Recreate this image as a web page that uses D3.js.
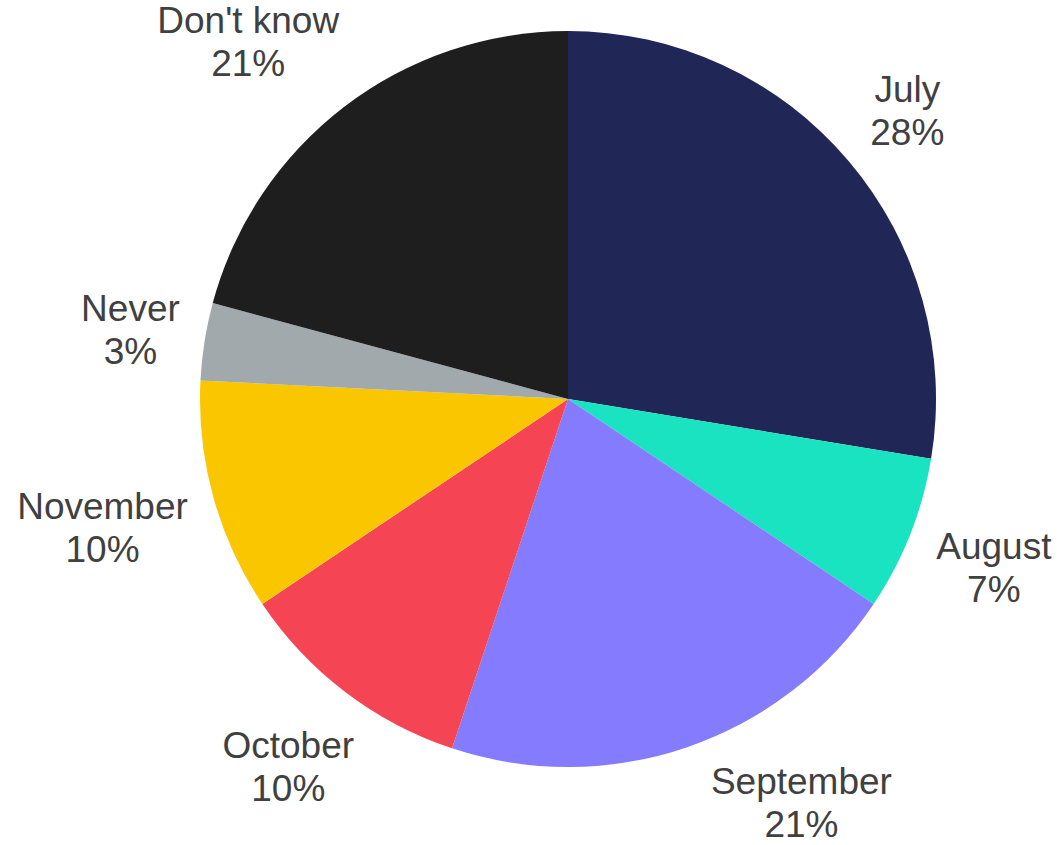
<!DOCTYPE html>
<html>
<head>
<meta charset="utf-8">
<script src="https://cdn.jsdelivr.net/npm/d3@7"></script>
<style>
  body { margin: 0; background: #fff; }
  svg text { font-family: "Liberation Sans", Arial, sans-serif; fill: #404040; }
</style>
</head>
<body>
<svg id="chart" width="1061" height="845"></svg>
<script>
// data (slice shares, percent labels as printed)
const categories = ["July", "August", "September", "October", "November", "Never", "Don't know"];
const values = [27.6, 6.8, 20.7, 10.5, 10.2, 3.4, 20.8];
const pctLabels = ["28%", "7%", "21%", "10%", "10%", "3%", "21%"];
const colors = ["#202656", "#1ae3c2", "#847bff", "#f54555", "#f9c600", "#a2a9ad", "#1e1e1e"];

const width = 1061, height = 845;
const cx = 568, cy = 399, radius = 368;
const gap = 21, fontSize = 37, lineH = 43;

const svg = d3.select("#chart");
const g = svg.append("g").attr("transform", "translate(" + cx + "," + cy + ")");

const data = categories.map((c, i) => ({name: c, value: values[i], pct: pctLabels[i], color: colors[i]}));

const pie = d3.pie().sort(null).value(d => d.value);
const arc = d3.arc().innerRadius(0).outerRadius(radius);
const arcs = pie(data);

g.selectAll("path.slice")
  .data(arcs)
  .enter()
  .append("path")
  .attr("class", "slice")
  .attr("d", arc)
  .attr("fill", d => d.data.color);

// labels: two lines, pushed out along the mid angle until the box clears the pie
const labels = g.selectAll("text.label")
  .data(arcs)
  .enter()
  .append("text")
  .attr("class", "label")
  .attr("text-anchor", "middle")
  .style("font-size", fontSize + "px");

labels.append("tspan").attr("x", 0).attr("dy", 0).text(d => d.data.name);
labels.append("tspan").attr("x", 0).attr("dy", lineH).text(d => d.data.pct);

function clearance(x, y, hw, hh) {
  const dx = Math.max(0, Math.abs(x) - hw);
  const dy = Math.max(0, Math.abs(y) - hh);
  return Math.sqrt(dx * dx + dy * dy);
}

labels.each(function(d) {
  const bb = this.getBBox();
  const hw = bb.width / 2, hh = bb.height / 2;
  const a = (d.startAngle + d.endAngle) / 2;
  const ux = Math.sin(a), uy = -Math.cos(a);
  let dist = radius;
  let x = 0, y = 0;
  while (true) {
    x = ux * dist; y = uy * dist;
    if (clearance(x, y, hw, hh) >= radius + gap) break;
    dist += 1;
  }
  // keep inside the chart area
  const minY = -cy + hh, maxY = height - cy - hh;
  const minX = -cx + hw, maxX = width - cx - hw;
  y = Math.max(minY, Math.min(maxY, y));
  x = Math.max(minX, Math.min(maxX, x));
  // slide sideways if the clamp pushed the box back onto the pie
  const sx = x >= 0 ? 1 : -1;
  while (clearance(x, y, hw, hh) < radius + gap) x += sx;
  const top = y - hh - bb.y;
  d3.select(this).attr("transform", "translate(" + x + "," + top + ")");
});
</script>
</body>
</html>
